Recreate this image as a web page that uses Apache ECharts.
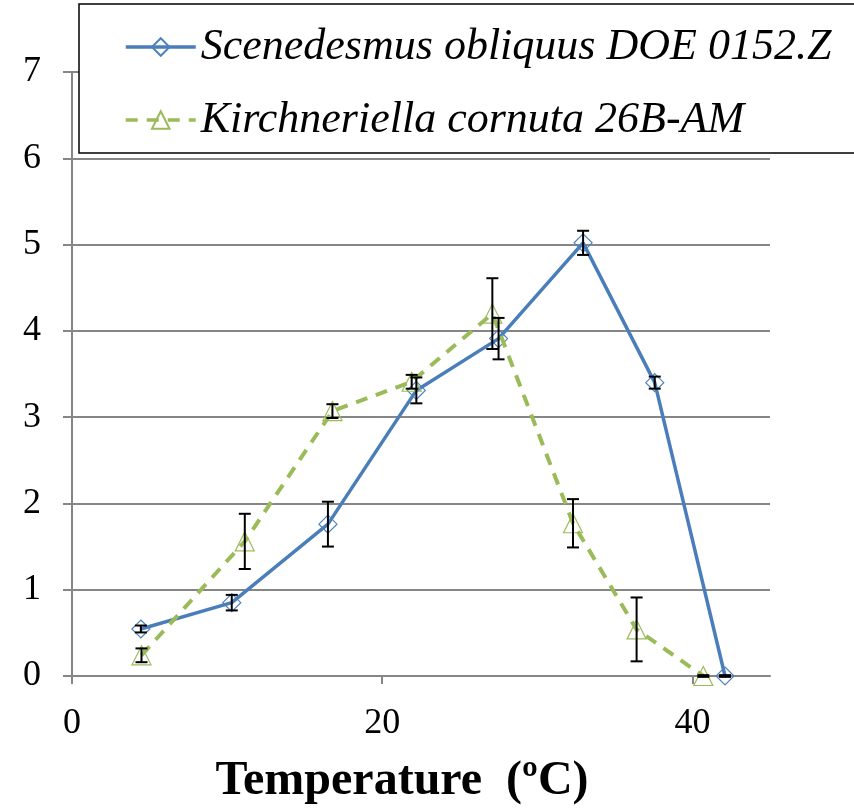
<!DOCTYPE html>
<html>
<head>
<meta charset="utf-8">
<script src="https://cdn.jsdelivr.net/npm/echarts@6/dist/echarts.min.js"></script>
<style>html,body{margin:0;padding:0;background:#fff}#c{width:854px;height:809px}</style>
</head>
<body>
<div id="c"></div>
<script>
const xTicks = [0, 20, 40];
const yTicks = [0, 1, 2, 3, 4, 5, 6, 7];
const seriesNames = ['Scenedesmus obliquus DOE 0152.Z', 'Kirchneriella cornuta 26B-AM'];
const scenX = [4.44, 10.3, 16.5, 22.2, 27.5, 32.95, 37.57, 42.1];
const scenY = [0.545, 0.85, 1.76, 3.31, 3.91, 5.02, 3.40, 0];
const scenErr = [0.04, 0.09, 0.26, 0.15, 0.24, 0.14, 0.07, 0.01];
const kirchX = [4.48, 11.14, 16.79, 21.9, 27.1, 32.3, 36.4, 40.7];
const kirchY = [0.24, 1.56, 3.07, 3.41, 4.2, 1.77, 0.54, 0];
const kirchErr = [0.08, 0.32, 0.08, 0.08, 0.41, 0.28, 0.37, 0.01];
const xTitle = 'Temperature  (ºC)';

const FONT = 'Liberation Serif';
const chart = echarts.init(document.getElementById('c'));

function errRender(params, api) {
  const x = api.value(0), y = api.value(1), e = api.value(2);
  const t = api.coord([x, y + e]);
  const b = api.coord([x, y - e]);
  const hw = 6;
  const st = {stroke: '#000', lineWidth: 2};
  return {type: 'group', children: [
    {type: 'line', shape: {x1: t[0], y1: t[1], x2: b[0], y2: b[1]}, style: st},
    {type: 'line', shape: {x1: t[0] - hw, y1: t[1], x2: t[0] + hw, y2: t[1]}, style: st},
    {type: 'line', shape: {x1: b[0] - hw, y1: b[1], x2: b[0] + hw, y2: b[1]}, style: st}
  ]};
}

chart.setOption({
  animation: false,
  grid: {left: 72, right: 84, top: 72, bottom: 133, containLabel: false},
  xAxis: {
    type: 'value', min: 0, max: 45, interval: 20,
    axisLine: {show: true, lineStyle: {color: '#868686', width: 2}},
    axisTick: {show: true, length: 8, customValues: xTicks, lineStyle: {color: '#868686', width: 2}},
    axisLabel: {customValues: xTicks, fontFamily: FONT, fontSize: 36, color: '#000', margin: 30},
    splitLine: {show: false}
  },
  yAxis: {
    type: 'value', min: 0, max: 7, interval: 1,
    axisLine: {show: true, lineStyle: {color: '#868686', width: 2}},
    axisTick: {show: true, length: 9, customValues: yTicks, lineStyle: {color: '#868686', width: 2}},
    axisLabel: {customValues: yTicks, fontFamily: FONT, fontSize: 36, color: '#000', margin: 31},
    splitLine: {show: true, lineStyle: {color: '#868686', width: 2}}
  },
  legend: {
    data: seriesNames,
    orient: 'vertical',
    left: 79, top: 4,
    backgroundColor: '#fff',
    borderColor: '#000', borderWidth: 1.5,
    padding: [21, 80, 11, 45],
    itemGap: 29,
    itemWidth: 70, itemHeight: 22,
    lineStyle: {width: 3.5},
    textStyle: {fontFamily: FONT, fontStyle: 'italic', fontSize: 44, color: '#000'},
    z: 10
  },
  graphic: [{
    type: 'text', x: 402, y: 782,
    style: {text: xTitle, font: 'bold 48px "Liberation Serif"', fill: '#000', textAlign: 'center', textVerticalAlign: 'middle'}
  }],
  series: [
    {
      name: seriesNames[0], type: 'line',
      data: scenX.map((x, i) => [x, scenY[i]]),
      symbol: 'diamond', symbolSize: 18,
      lineStyle: {color: '#4A7EBB', width: 3.5},
      itemStyle: {color: 'rgba(0,0,0,0)', borderColor: '#4F81BD', borderWidth: 1.2},
      z: 2
    },
    {
      name: seriesNames[1], type: 'line',
      data: kirchX.map((x, i) => [x, kirchY[i]]),
      symbol: 'triangle', symbolSize: 19,
      lineStyle: {color: '#9BBB59', width: 4, type: [12, 9]},
      itemStyle: {color: 'rgba(0,0,0,0)', borderColor: '#9BBB59', borderWidth: 1.2},
      z: 3
    },
    {
      name: 'err1', type: 'custom', renderItem: errRender,
      data: scenX.map((x, i) => [x, scenY[i], scenErr[i]]),
      encode: {x: 0, y: 1}, z: 4
    },
    {
      name: 'err2', type: 'custom', renderItem: errRender,
      data: kirchX.map((x, i) => [x, kirchY[i], kirchErr[i]]),
      encode: {x: 0, y: 1}, z: 4
    }
  ]
});
</script>
</body>
</html>
